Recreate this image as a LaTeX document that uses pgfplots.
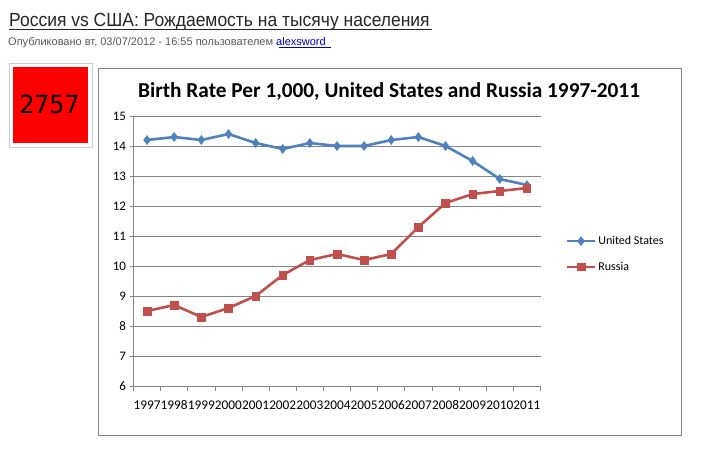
\documentclass[border=0pt]{standalone}
\usepackage{pgfplots}
\pgfplotsset{compat=1.18}
\usepackage{fontspec}
\setmainfont{Carlito}
\newfontfamily\webfont{Liberation Sans}
\newfontfamily\digitfont{DejaVu Sans Mono}
\definecolor{usblue}{HTML}{4F81BD}
\definecolor{rured}{HTML}{C0504D}
\definecolor{framegray}{HTML}{868686}
\definecolor{linkblue}{HTML}{0000CC}

\begin{document}
\begin{tikzpicture}[x=1pt,y=1pt]
\fill[white] (0,0) rectangle (705,451);
% page header
\node[anchor=base west, inner sep=0, text=black!85,
      font=\webfont\fontsize{19}{22}\selectfont] at (9,424) {\scalebox{0.92}[1]{Россия vs США: Рождаемость на тысячу населения}};
\draw[black!85, line width=0.9pt] (9,421.5) -- (432,421.5);
\node[anchor=base west, inner sep=0, text=black!65,
      font=\webfont\fontsize{11}{13}\selectfont] at (8,405)
      {Опубликовано вт, 03/07/2012 - 16:55 пользователем \textcolor{linkblue}{alexsword}};
\draw[linkblue, line width=0.5pt] (279,403.5) -- (331,403.5);
% counter
\draw[black!20, fill=white, line width=1pt] (9,304) rectangle (92,387);
\fill[red] (13,308) rectangle (88,384);
\node[font=\digitfont\fontsize{25}{28}\selectfont, text=black] at (49.5,347) {2757};
% chart frame
\draw[framegray, line width=0.8pt] (98,16) rectangle (681,383);
\node[font=\bfseries\fontsize{21.3}{25}\selectfont] at (389,360) {Birth Rate Per 1,000, United States and Russia 1997-2011};
\coordinate (axo) at (133.5,65);

\begin{axis}[
    at={(axo)}, anchor=south west,
    scale only axis, width=407pt, height=270pt,
    xmin=-0.5, xmax=14.5, ymin=6, ymax=15,
    xtick={0,...,14},
    xticklabels={1997,1998,1999,2000,2001,2002,2003,2004,2005,2006,2007,2008,2009,2010,2011},
    minor xtick={-0.5,0.5,...,14.5},
    ytick={6,...,15},
    axis x line*=bottom, axis y line*=left,
    axis line style={-, framegray, line width=0.8pt},
    tick align=outside,
    major x tick style={draw=none},
    minor tick length=5pt, major tick length=4pt,
    tick style={framegray, line width=0.8pt},
    ymajorgrids, grid style={framegray, line width=0.8pt},
    ticklabel style={font=\fontsize{13}{15}\selectfont},
    xticklabel style={inner xsep=0pt, anchor=base, yshift=-19pt, font=\fontsize{13.3}{15}\selectfont},
    /pgf/number format/assume math mode=true,
    legend style={at={(1,0.5)}, anchor=west, xshift=22pt, yshift=-3pt, draw=none, fill=none,
        font=\fontsize{12}{14}\selectfont, row sep=12pt},
    legend cell align=left,
    legend image code/.code={\draw[mark repeat=2,mark phase=2,#1] plot coordinates {(0pt,0pt) (14pt,0pt) (28pt,0pt)};},
]
\addplot[usblue, line width=2.6pt, mark=diamond*, mark size=4.5pt, mark options={line width=0.5pt}]
  coordinates {(0,14.2) (1,14.3) (2,14.2) (3,14.4) (4,14.1) (5,13.9) (6,14.1) (7,14.0) (8,14.0) (9,14.2) (10,14.3) (11,14.0) (12,13.5) (13,12.9) (14,12.7)};
\addplot[rured, line width=2.6pt, mark=square*, mark size=3.8pt, mark options={line width=0.5pt}]
  coordinates {(0,8.5) (1,8.7) (2,8.3) (3,8.6) (4,9.0) (5,9.7) (6,10.2) (7,10.4) (8,10.2) (9,10.4) (10,11.3) (11,12.1) (12,12.4) (13,12.5) (14,12.6)};
\legend{United States, Russia}
\end{axis}
\end{tikzpicture}
\end{document}
